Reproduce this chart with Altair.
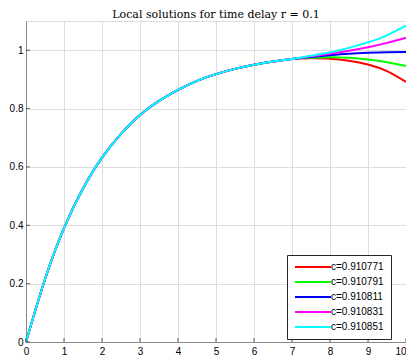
import altair as alt
import pandas as pd

# Shared part of all solutions
common_t = [0, 0.5, 1, 1.5, 2, 2.5, 3, 3.5, 4, 4.5, 5, 5.5, 6, 6.5, 7]
common_y = [0.0, 0.215, 0.390, 0.526, 0.632, 0.713, 0.778, 0.826, 0.864, 0.895,
            0.918, 0.936, 0.950, 0.961, 0.970]

# Diverging tails
tail_t = [7.5, 8, 8.5, 9, 9.5, 10]
series_names = ["c=0.910771", "c=0.910791", "c=0.910811", "c=0.910831", "c=0.910851"]
tail_y = [
    [0.972, 0.971, 0.964, 0.951, 0.928, 0.891],
    [0.974, 0.976, 0.974, 0.968, 0.959, 0.946],
    [0.977, 0.983, 0.988, 0.991, 0.993, 0.994],
    [0.979, 0.988, 0.998, 1.010, 1.025, 1.043],
    [0.981, 0.993, 1.008, 1.027, 1.051, 1.084],
]
series_colors = ["#ff0000", "#00ff00", "#0000ff", "#ff00ff", "#00ffff"]

x_ticks = [0, 1, 2, 3, 4, 5, 6, 7, 8, 9, 10]
y_ticks = [0, 0.2, 0.4, 0.6, 0.8, 1]

rows = []
for i, name in enumerate(series_names):
    for t, y in zip(common_t + tail_t, common_y + tail_y[i]):
        rows.append({"t": t, "y": y, "series": name})
df = pd.DataFrame(rows)

W, H = 380, 321
AX = "#262626"
FONT = "Liberation Sans"

xscale = alt.Scale(domain=[0, 10], nice=False, zero=False)
yscale = alt.Scale(domain=[0, 1.1], nice=False, zero=False)

xaxis = alt.Axis(values=x_ticks, title=None, format="d", grid=True,
                 tickSize=0, labelPadding=4, labelOverlap=False,
                 labelAlign={"condition": {"test": "datum.value == 10", "value": "right"},
                             "value": "center"})
yaxis = alt.Axis(values=y_ticks, title=None, format="~g", grid=True,
                 tickSize=0, labelPadding=3, labelOverlap=False)

lines = alt.Chart(df).mark_line(strokeWidth=2, interpolate="natural").encode(
    x=alt.X("t:Q", scale=xscale, axis=xaxis),
    y=alt.Y("y:Q", scale=yscale, axis=yaxis),
    color=alt.Color("series:N",
                    scale=alt.Scale(domain=series_names, range=series_colors),
                    legend=alt.Legend(title=None, orient="none", legendX=261, legendY=234,
                                      symbolType="M-9,0H9", symbolSize=16,
                                      symbolStrokeWidth=2, symbolOffset=14,
                                      labelFont=FONT,
                                      labelExpr="datum.label + '\u00a0\u00a0\u00a0'",
                                      labelFontSize=10, labelColor="#000000",
                                      strokeColor=AX, fillColor="white", padding=7,
                                      rowPadding=5, labelOffset=13)),
)

xt = alt.Chart(pd.DataFrame({"v": x_ticks})).mark_tick(
    orient="vertical", color=AX, thickness=1, size=4
).encode(x=alt.X("v:Q", scale=xscale, axis=xaxis), y=alt.value(H - 2))

yt = alt.Chart(pd.DataFrame({"v": y_ticks})).mark_tick(
    orient="horizontal", color=AX, thickness=1, size=4
).encode(y=alt.Y("v:Q", scale=yscale, axis=yaxis), x=alt.value(2))

chart = alt.layer(lines, xt, yt).properties(
    width=W, height=H,
    title=alt.Title("Local solutions for time delay r = 0.1", font="DejaVu Serif",
                    fontSize=11, fontWeight="normal", color="#000000",
                    anchor="middle", offset=1),
    autosize=alt.AutoSizeParams(type="none"),
    padding={"left": 18, "top": 13, "right": 0, "bottom": 14},
).configure_view(stroke=None).configure_axis(
    domainColor=AX, domainWidth=1, gridColor="#e6e6e6", gridWidth=1,
    labelFont=FONT, labelFontSize=11, labelColor=AX,
).configure(background="white")

chart.save("out.html", embed_options={"renderer": "svg", "actions": False})
